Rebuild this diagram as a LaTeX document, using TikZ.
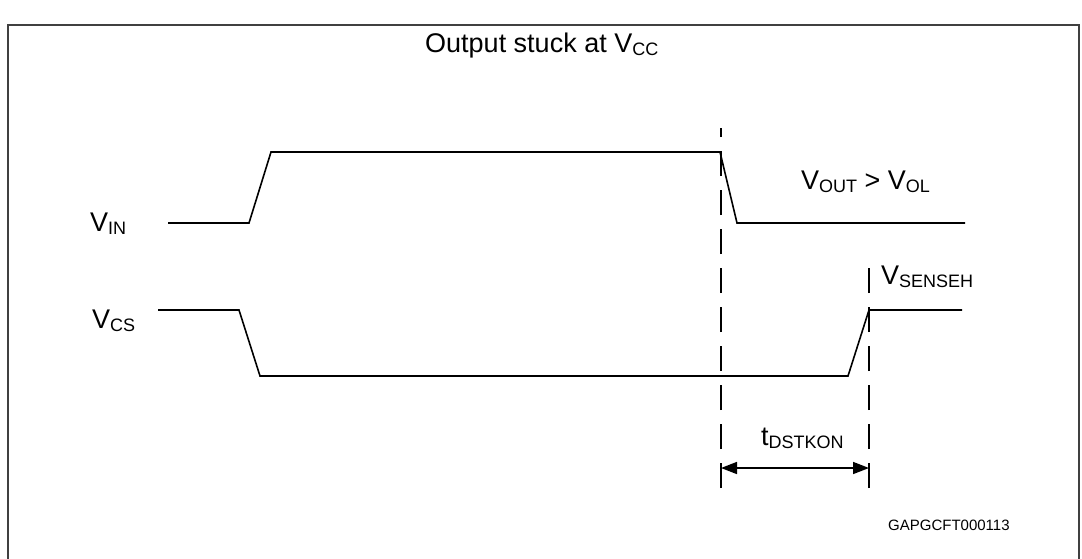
\documentclass[tikz,border=0pt]{standalone}
\usepackage{fontspec}
\setmainfont{Liberation Sans}
\usetikzlibrary{arrows.meta}
\newcommand{\lowsub}[1]{\raisebox{-3.5pt}{\fontsize{18}{20}\selectfont #1}}

\begin{document}
\begin{tikzpicture}[
		x=1pt, y=-1pt,
		wave/.style={line width=1.6pt, line join=miter},
		marker/.style={line width=1.6pt, dash pattern=on 25pt off 14pt},
		lbl/.style={anchor=base west, inner sep=0pt, font=\fontsize{27}{32}\selectfont}
	]
	\useasboundingbox (0,0) rectangle (1082,558);
	\begin{scope}
		\clip (0,0) rectangle (1082,558);
		\draw[black!75, line width=1.2pt] (8,25) rectangle (1079,600);
	\end{scope}
	% labels
	\node[lbl] (title) at (425,52) {Output stuck at V\lowsub{CC}};
	\node[lbl] (vin) at (90,231) {V\lowsub{IN}};
	\node[lbl] (vcs) at (92,328) {V\lowsub{CS}};
	\node[lbl] (vout) at (801,189) {V\lowsub{OUT} > V\lowsub{OL}};
	\node[lbl] (vsense) at (881,284) {V\lowsub{SENSEH}};
	\node[lbl] (tdst) at (761,445) {t\lowsub{DSTKON}};
	\node[anchor=base west, inner sep=0pt, font=\fontsize{15}{18}\selectfont] (code) at (888,530) {GAPGCFT000113};
	% waveforms
	\draw[wave] (168,223) -- (249,223) -- (271,152) -- (720,152) -- (737,223) -- (965,223);
	\draw[wave] (158,310) -- (239,310) -- (260,376) -- (848,376) -- (869,310) -- (962,310);
	% markers
	\coordinate (m1b) at (721,488);
	\coordinate (m1t) at (721,128);
	\coordinate (m2b) at (869,488);
	\coordinate (m2t) at (869,268);
	\draw[marker] (m1b) -- (m1t);
	\draw[marker] (m2b) -- (m2t);
	\coordinate (a1) at (721,468);
	\coordinate (a2) at (869,468);
	\draw[line width=1.6pt, {Triangle[length=16pt,width=12pt]}-{Triangle[length=16pt,width=12pt]}] (a1) -- (a2);
\end{tikzpicture}
\end{document}
